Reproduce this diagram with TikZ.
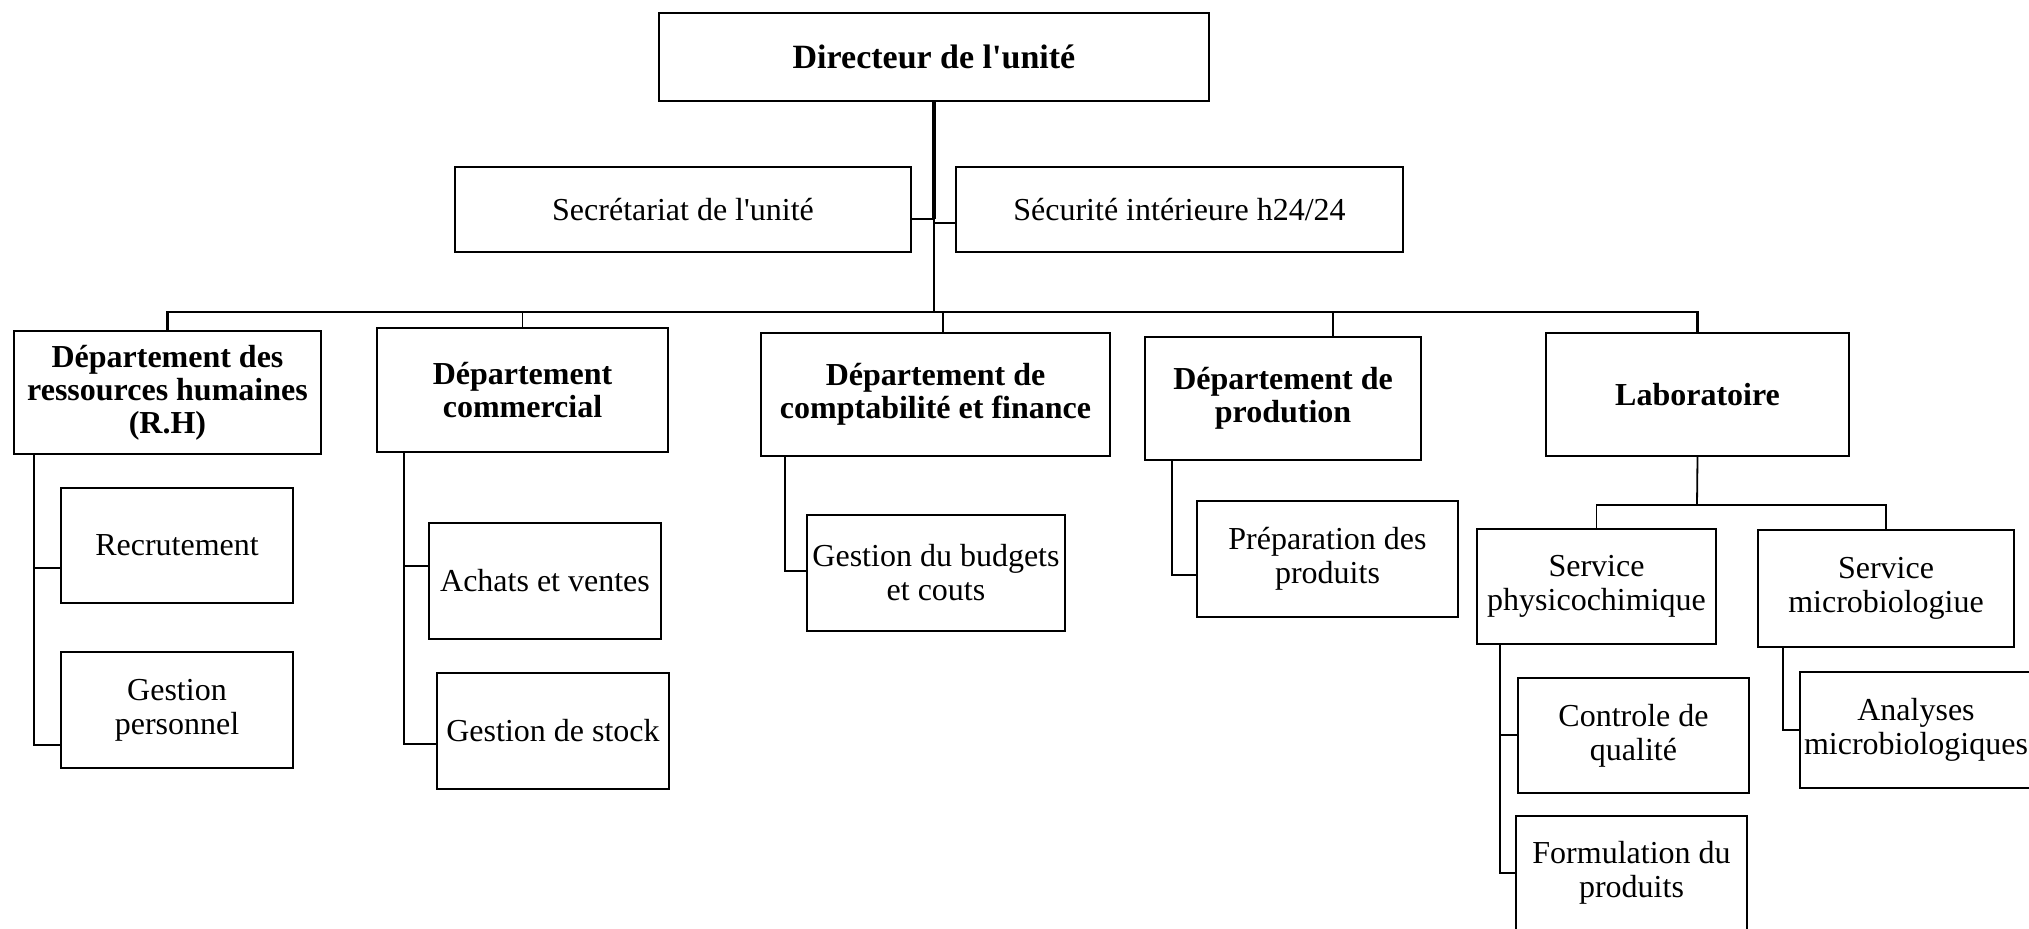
\documentclass[tikz,border=0pt]{standalone}
\usepackage{fontspec}
\setmainfont{Liberation Serif}
\newcommand\ap{\textquotesingle}
\newcommand\orgbox[7][]{%
  \node[box,#1,minimum width={(#5-#3)*0.5pt},minimum height={(#6-#4)*0.5pt}]
    (#2) at ({(#3+#5)/2},{(#4+#6)/2}) {#7};}
\begin{document}
\begin{tikzpicture}[x=0.5pt,y=-0.5pt,
  box/.style={draw,line width=1pt,align=center,inner sep=0pt,
    font=\fontsize{16}{17}\selectfont},
  bold/.style={font=\fontsize{16}{16.5}\selectfont\bfseries},
  conn/.style={line width=0.9pt},
  thinconn/.style={line width=0.55pt},
  trunk/.style={line width=2pt},
  busline/.style={line width=1.2pt}]
\useasboundingbox (0,0) rectangle (2029,928);
% boxes
\orgbox[font=\fontsize{17}{18}\selectfont\bfseries]{dir}{659}{13}{1209}{101}{Directeur de l\ap unité}
\orgbox{sec}{455}{167}{911}{252}{Secrétariat de l\ap unité}
\orgbox{secu}{956}{167}{1403}{252}{Sécurité intérieure h24/24}
\orgbox[bold]{rh}{14}{331}{321}{454}{Département des\\ressources humaines\\(R.H)}
\orgbox[bold]{com}{377}{328}{668}{452}{Département\\commercial}
\orgbox[bold]{cpt}{761}{333}{1110}{456}{Département de\\comptabilité et finance}
\orgbox[bold]{prod}{1145}{337}{1421}{460}{Département de\\prodution}
\orgbox[bold]{lab}{1546}{333}{1849}{456}{Laboratoire}
\orgbox{recr}{61}{488}{293}{603}{Recrutement}
\orgbox{gp}{61}{652}{293}{768}{Gestion\\personnel}
\orgbox{av}{429}{523}{661}{639}{Achats et ventes}
\orgbox{gs}{437}{673}{669}{789}{Gestion de stock}
\orgbox{gb}{807}{515}{1065}{631}{Gestion du budgets\\et couts}
\orgbox{pp}{1197}{501}{1458}{617}{Préparation des\\produits}
\orgbox{sp}{1477}{529}{1716}{644}{Service\\physicochimique}
\orgbox{sm}{1758}{530}{2014}{647}{Service\\microbiologiue}
\orgbox{cq}{1518}{678}{1749}{793}{Controle de\\qualité}
\orgbox{fp}{1516}{816}{1747}{930}{Formulation du\\produits}
\orgbox{am}{1800}{672}{2032}{788}{Analyses\\microbiologiques}
% junctions
\coordinate (j1) at (934,219);
\coordinate (j2) at (934,223);
\coordinate (bus) at (934,312);
\coordinate (lj) at (1697,505);
% top connectors
\draw[trunk] (dir.south) -- (j1);
\draw[conn] (j1) -- (bus);
\draw[conn] (sec.east |- j1) -- (j1);
\draw[conn] (secu.west |- j2) -- (j2);
\draw[busline] (rh.north) |- (bus);
\draw[busline] (bus) -| (lab.north);
\draw[thinconn] (com.north) -- (com.north |- bus);
\draw[conn] ([xshift=3.75pt]cpt.north) -- ([xshift=3.75pt]cpt.north |- bus);
\draw[conn] ([xshift=25pt]prod.north) -- ([xshift=25pt]prod.north |- bus);
% department branches
\draw[conn] ([xshift=10.5pt]rh.south west) |- ([yshift=-11.25pt]recr.west);
\draw[conn] ([xshift=10.5pt]rh.south west) |- ([yshift=-17.5pt]gp.west);
\draw[conn] ([xshift=14pt]com.south west) |- ([yshift=7.5pt]av.west);
\draw[conn] ([xshift=14pt]com.south west) |- ([yshift=-6.5pt]gs.west);
\draw[conn] ([xshift=12.5pt]cpt.south west) |- ([yshift=1pt]gb.west);
\draw[conn] ([xshift=14pt]prod.south west) |- ([yshift=-8pt]pp.west);
\draw[conn] (lab.south) -- (lj);
\draw[conn] (lj) -| (sp.north);
\draw[conn] (lj) -| (sm.north);
\draw[conn] ([xshift=12pt]sp.south west) |- ([yshift=0.25pt]cq.west);
\draw[conn] ([xshift=12pt]sp.south west) |- (fp.west);
\draw[conn] ([xshift=13pt]sm.south west) |- (am.west);
\end{tikzpicture}
\end{document}
